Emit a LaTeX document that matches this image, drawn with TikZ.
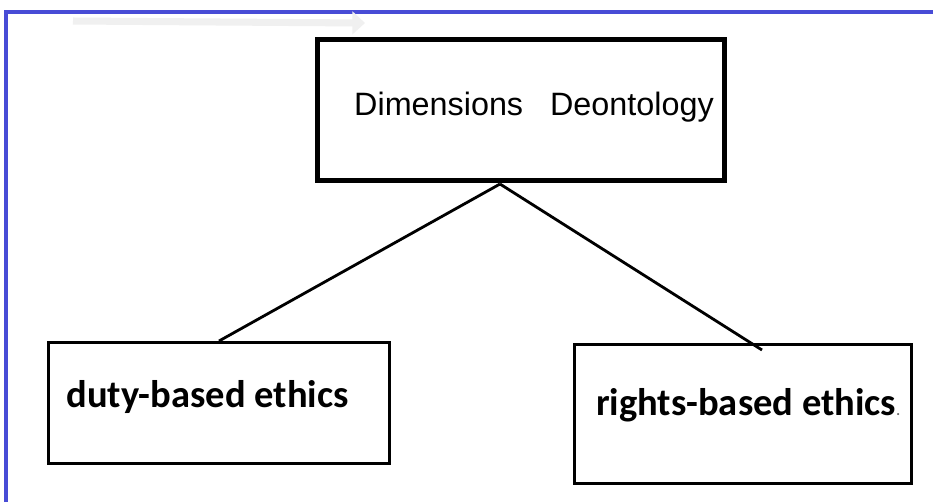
\documentclass[tikz,border=0pt]{standalone}
\usepackage{fontspec}
\setmainfont{Liberation Sans}
\newfontfamily\calibri{Carlito}
\usetikzlibrary{arrows.meta}
\definecolor{framebl}{RGB}{72,76,214}

\begin{document}
\begin{tikzpicture}[x=0.025cm, y=-0.025cm, >={Triangle[length=9pt,width=16pt]}]
    \tikzset{box/.style={draw, line width=2.1pt, inner sep=0pt, font={\calibri\bfseries\fontsize{27.4pt}{30pt}\selectfont}}}
    \useasboundingbox [fill=white] (0,0) rectangle (933,502);
    \draw [framebl, line width=2.2pt] (6,502) -- (6,12) -- (933,12);
    \coordinate (s) at (73,21);
    \coordinate (t) at (365,23);
    \draw [->, black!6, line width=5pt] (s) -- (t);
    \node [box, line width=3.6pt, minimum width=10.175cm, minimum height=3.525cm, text depth=0.3cm, font={\fontsize{23pt}{26pt}\selectfont}] (dims) at (521,110) {\hspace*{0.65cm}Dimensions\ \ \ Deontology};
    \node [box, minimum width=8.525cm, minimum height=3.025cm, text depth=0.45cm] (duty) at (219,403) {duty-based ethics\hspace*{0.575cm}};
    \node [box, minimum width=8.425cm, minimum height=3.475cm, text depth=0.6cm] (rights) at (743,414) {\hspace*{0.25cm}rights-based ethics{\fontsize{10pt}{12pt}\selectfont\color{black!60}.}};
    \coordinate (apex) at (500,184);
    \coordinate (rend) at (762,350);
    \draw [line width=2pt] (apex) -- (duty.north);
    \draw [line width=2pt] (apex) -- (rend);
\end{tikzpicture}
\end{document}
